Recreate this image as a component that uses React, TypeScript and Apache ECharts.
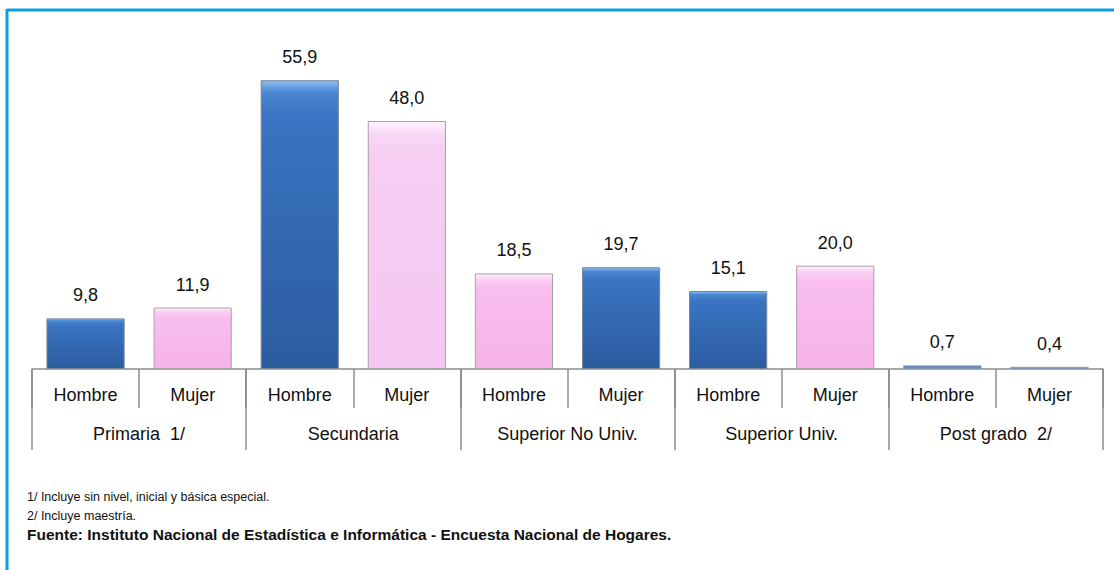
import React, { useEffect, useRef } from "react";
import * as echarts from "echarts";

const groups = ["Primaria  1/", "Secundaria", "Superior No Univ.", "Superior Univ.", "Post grado  2/"];
const sexLabels = ["Hombre", "Mujer", "Hombre", "Mujer", "Hombre", "Mujer", "Hombre", "Mujer", "Hombre", "Mujer"];
const values = [9.8, 11.9, 55.9, 48.0, 18.5, 19.7, 15.1, 20.0, 0.7, 0.4];
const colorKeys = ["azul", "rosa", "azul", "lila", "rosa", "azul", "azul", "rosa", "gris", "gris"];
const footnotes = [
  "1/ Incluye sin nivel, inicial y básica especial.",
  "2/ Incluye maestría.",
  "Fuente: Instituto Nacional de Estadística e Informática - Encuesta Nacional de Hogares.",
];

const FONT = "'Liberation Sans', Arial, sans-serif";

const grad = (stops: [number, string][]) =>
  new echarts.graphic.LinearGradient(0, 0, 0, 1, stops.map(([offset, color]) => ({ offset, color })));

const styles: Record<string, any> = {
  azul: () => ({
    color: grad([
      [0, "#8cc0f2"],
      [0.04, "#4a86d2"],
      [0.12, "#3a74c2"],
      [1, "#2b5c9f"],
    ]),
    borderColor: "#7a8696",
    borderWidth: 1,
  }),
  rosa: () => ({
    color: grad([
      [0, "#fff0fc"],
      [0.06, "#fbd0f3"],
      [0.16, "#f9bdee"],
      [1, "#f6b3e9"],
    ]),
    borderColor: "#a8a0a8",
    borderWidth: 1,
  }),
  lila: () => ({
    color: grad([
      [0, "#fff4fe"],
      [0.05, "#f8d8f6"],
      [0.12, "#f6cdf3"],
      [1, "#f5c8f1"],
    ]),
    borderColor: "#a8a0a8",
    borderWidth: 1,
  }),
  gris: () => ({
    color: "#6d8cbc",
    borderColor: "#8898b0",
    borderWidth: 0.5,
  }),
};

export default function App() {
  const ref = useRef<HTMLDivElement>(null);
  useEffect(() => {
    if (!ref.current) return;
    const chart = echarts.init(ref.current, undefined, { renderer: "svg" });
    const fmt = (v: number) => v.toFixed(1).replace(".", ",");
    chart.setOption({
      animation: false,
      backgroundColor: "#ffffff",
      grid: { left: 32, right: 11, top: 59, bottom: 201, containLabel: false },
      xAxis: [
        {
          type: "category",
          data: sexLabels,
          position: "bottom",
          axisLine: { show: true, lineStyle: { color: "#8c8c8c", width: 1.5 } },
          axisTick: { show: true, interval: 0, length: 39, lineStyle: { color: "#8c8c8c", width: 1.5 } },
          axisLabel: { interval: 0, margin: 17, color: "#111", fontSize: 18, fontFamily: FONT },
        },
        {
          type: "category",
          data: groups,
          position: "bottom",
          axisLine: { show: false },
          axisTick: { show: true, interval: 0, length: 81, lineStyle: { color: "#8c8c8c", width: 1.5 } },
          axisLabel: { interval: 0, margin: 56, color: "#111", fontSize: 18, fontFamily: FONT },
        },
      ],
      yAxis: { type: "value", min: 0, max: 60, show: false },
      series: [
        {
          type: "bar",
          xAxisIndex: 0,
          barWidth: "73%",
          data: values.map((v, i) => ({ value: v, itemStyle: styles[colorKeys[i]]() })),
          label: {
            show: true,
            position: "top",
            distance: 14,
            formatter: (p: any) => fmt(p.value),
            color: "#111",
            fontSize: 18,
            fontFamily: FONT,
          },
        },
      ],
      graphic: [
        { type: "line", shape: { x1: 7, y1: 10, x2: 1114, y2: 10 }, style: { stroke: "#0a9fdf", lineWidth: 3 } },
        { type: "line", shape: { x1: 7, y1: 9, x2: 7, y2: 570 }, style: { stroke: "#0a9fdf", lineWidth: 3 } },
        ...footnotes.map((t, i) => ({
          type: "text",
          x: 27,
          y: 497 + i * 18.5,
          style: {
            text: t,
            fill: "#111",
            font: i === 2 ? `bold 15.5px ${FONT}` : `12.5px ${FONT}`,
            verticalAlign: "middle",
          },
        })),
      ],
    });
    return () => chart.dispose();
  }, []);
  return <div ref={ref} style={{ position: "fixed", left: 0, top: 0, width: 1114, height: 570 }} />;
}
